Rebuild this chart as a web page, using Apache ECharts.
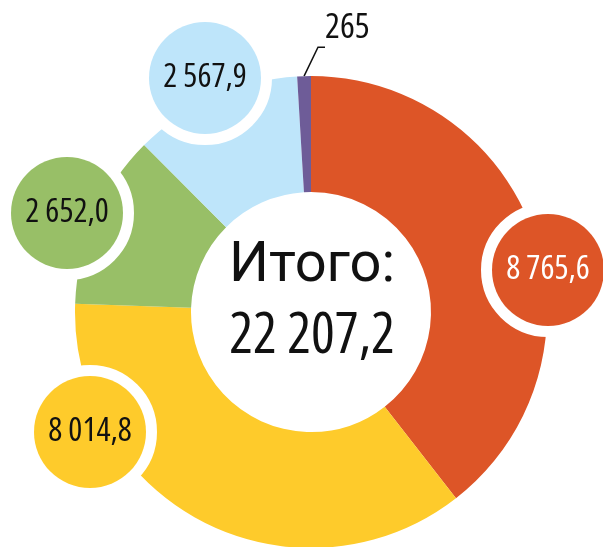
<!DOCTYPE html>
<html>
<head>
<meta charset="utf-8">
<script src="https://cdn.jsdelivr.net/npm/echarts@6/dist/echarts.min.js"></script>
<style>
  html, body { margin: 0; padding: 0; background: #fff; }
  #chart { width: 603px; height: 547px; }
</style>
</head>
<body>
<div id="chart"></div>
<script>
// данные
const categories = ["A", "B", "C", "D", "E"];
const values = [8765.6, 8014.8, 2652.0, 2567.9, 207.9];
const valueLabels = ["8 765,6", "8 014,8", "2 652,0", "2 567,9", "265"];
const totalLabel = "22 207,2";

const colors = ["#DD5527", "#FECB2B", "#98BF67", "#BEE5FA", "#6E5C98"];
const labelPos = [[548, 270], [90, 432], [67, 213], [205, 78], [325, 12]];
const narrow = "'Open Sans', sans-serif";

const chart = echarts.init(document.getElementById("chart"));

const data = values.map((v, i) => {
  const isSmall = i === 4;
  return {
    name: categories[i],
    value: v,
    itemStyle: { color: colors[i] },
    label: isSmall
      ? {
          formatter: valueLabels[i],
          color: "#111",
          fontSize: 35,
          fontWeight: "condensed",
          fontFamily: narrow,
          lineHeight: 32,
          padding: [0, 40, 40, 0],
        }
      : {
          formatter: valueLabels[i],
          color: i === 0 ? "#fff" : "#111",
          fontSize: 33,
          fontWeight: "condensed",
          fontFamily: narrow,
          width: 112,
          height: 112,
          lineHeight: 112,
          align: "center",
          borderRadius: 56,
          backgroundColor: colors[i],
          borderColor: "#fff",
          borderWidth: 11,
        },
    labelLine: { show: isSmall, lineStyle: { color: "#111", width: 1.5 } },
  };
});

const option = {
  animation: false,
  series: [
    {
      type: "pie",
      center: [311, 312],
      radius: [120, 236],
      startAngle: 90,
      clockwise: true,
      avoidLabelOverlap: false,
      itemStyle: { borderWidth: 0 },
      label: { position: "outside" },
      labelLine: { length: 20, length2: 7, smooth: false },
      labelLayout: function (params) {
        const p = labelPos[params.dataIndex];
        if (params.dataIndex === 4) {
          return { x: p[0], y: p[1], align: "left", verticalAlign: "top" };
        }
        return { x: p[0], y: p[1], align: "center", verticalAlign: "middle" };
      },
      data: data,
    },
  ],
  graphic: [
    {
      type: "text",
      x: 312,
      y: 267,
      style: {
        text: "Итого:",
        fontSize: 56,
        fontFamily: "Roboto, sans-serif",
        fill: "#111",
        align: "center",
        verticalAlign: "middle",
      },
    },
    {
      type: "text",
      x: 312,
      y: 337,
      style: {
        text: totalLabel,
        fontSize: 56,
        fontWeight: "condensed",
        fontFamily: narrow,
        fill: "#111",
        align: "center",
        verticalAlign: "middle",
      },
    },
  ],
};

chart.setOption(option);
</script>
</body>
</html>
